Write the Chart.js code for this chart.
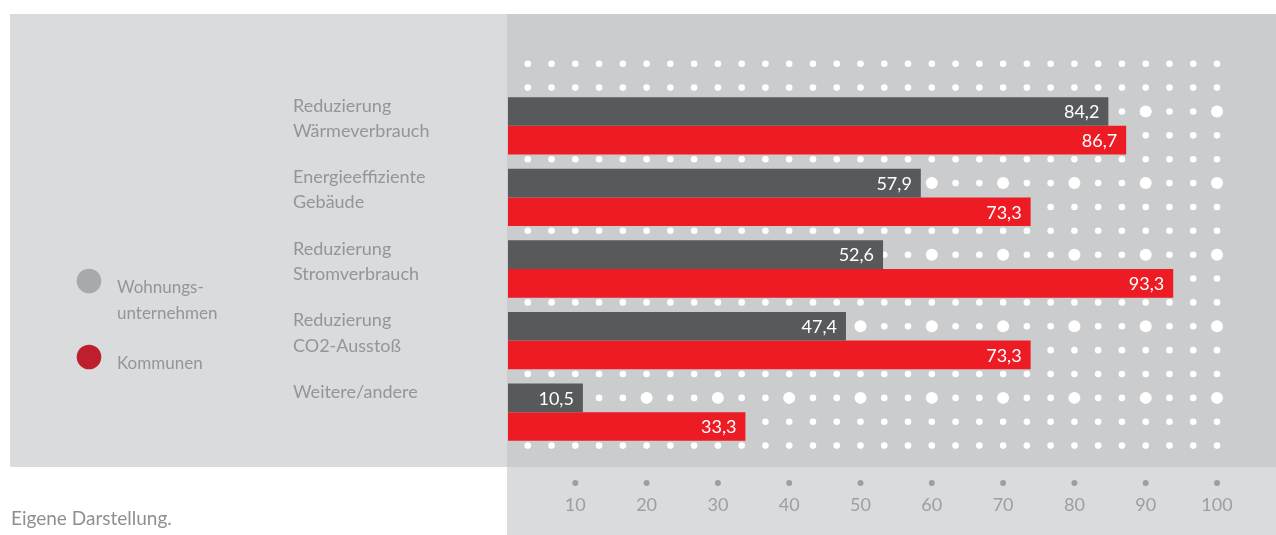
<!DOCTYPE html>
<html lang="de">
<head>
<meta charset="utf-8">
<script src="https://cdn.jsdelivr.net/npm/chart.js@4.4.1/dist/chart.umd.min.js"></script>
<style>
  html, body { margin: 0; padding: 0; background: #fff; }
  canvas { display: block; }
</style>
</head>
<body>
<canvas id="chart" width="1276" height="535"></canvas>
<script>
// --- Daten ---
const categories = [
  ['Reduzierung', 'Wärmeverbrauch'],
  ['Energieeffiziente', 'Gebäude'],
  ['Reduzierung', 'Stromverbrauch'],
  ['Reduzierung', 'CO2-Ausstoß'],
  ['Weitere/andere', '']
];
const wohnungsunternehmen = [84.2, 57.9, 52.6, 47.4, 10.5];
const kommunen = [86.7, 73.3, 93.3, 73.3, 33.3];
const seriesNames = ['Wohnungsunternehmen', 'Kommunen'];
const legendLines = [['Wohnungs-', 'unternehmen'], ['Kommunen']];
const tickValues = [10, 20, 30, 40, 50, 60, 70, 80, 90, 100];
const sourceNote = 'Eigene Darstellung.';

// --- Stil ---
const FONT = 'Lato, "Open Sans", sans-serif';
const GRAY_BAR = '#58595b';
const RED_BAR = '#ed1c24';
const LEGEND_COLORS = ['#a7a9ac', '#be1e2d'];
const TEXT_GRAY = '#939598';
const GRID_SHIFT = -4; // Punktraster sitzt etwas links der Balkenskala

const decor = {
  id: 'decor',
  beforeDraw(chart) {
    const { ctx, width, height } = chart;
    ctx.save();
    ctx.fillStyle = '#ffffff';
    ctx.fillRect(0, 0, width, height);
    ctx.fillStyle = '#dadbdd';
    ctx.fillRect(10, 14, 497, 453);
    ctx.fillStyle = '#cbcccd';
    ctx.fillRect(507, 14, width - 507, 453);
    ctx.fillStyle = '#dadbdd';
    ctx.fillRect(507, 467, width - 507, height - 467);

    // Legende
    ctx.font = '17px ' + FONT;
    ctx.textBaseline = 'middle';
    ctx.textAlign = 'left';
    const legendY = [281, 357];
    legendLines.forEach((lines, i) => {
      ctx.fillStyle = LEGEND_COLORS[i];
      ctx.beginPath();
      ctx.arc(89, legendY[i], 12.3, 0, Math.PI * 2);
      ctx.fill();
      ctx.fillStyle = TEXT_GRAY;
      lines.forEach((t, l) => ctx.fillText(t, 117, legendY[i] + 7 + l * 26));
    });

    // Quelle
    ctx.font = '19px ' + FONT;
    ctx.fillStyle = '#8e8f91';
    ctx.fillText(sourceNote, 11, 519);
    ctx.restore();
  },
  beforeDatasetsDraw(chart) {
    const { ctx, chartArea } = chart;
    const xs = chart.scales.x, ys = chart.scales.y;
    const catStep = ys.getPixelForValue(1) - ys.getPixelForValue(0);
    const row = catStep / 3;
    const firstDark = ys.getPixelForValue(0) - catStep * 0.8 / 4;
    ctx.save();
    ctx.fillStyle = '#ffffff';
    for (let j = -2; j <= 14; j++) {
      const y = firstDark + j * row;
      const darkRow = j >= 0 && j % 3 === 0;
      for (let k = 1; k <= 30; k++) {
        const x = xs.getPixelForValue(k * 10 / 3) + GRID_SHIFT;
        const big = darkRow && k % 3 === 0;
        ctx.beginPath();
        ctx.arc(x, y, big ? 6 : 3.3, 0, Math.PI * 2);
        ctx.fill();
      }
    }
    // Punkte über den Achsenbeschriftungen
    ctx.fillStyle = '#9d9ea0';
    tickValues.forEach(v => {
      ctx.beginPath();
      ctx.arc(xs.getPixelForValue(v) + GRID_SHIFT, chartArea.bottom + 35, 3, 0, Math.PI * 2);
      ctx.fill();
    });
    ctx.restore();
  },
  afterDatasetsDraw(chart) {
    const ctx = chart.ctx;
    ctx.save();
    ctx.font = '18px ' + FONT;
    ctx.fillStyle = '#ffffff';
    ctx.textAlign = 'right';
    ctx.textBaseline = 'middle';
    chart.data.datasets.forEach((ds, i) => {
      chart.getDatasetMeta(i).data.forEach((bar, j) => {
        ctx.fillText(ds.data[j].toFixed(1).replace('.', ','), bar.x - 9, bar.y + 1);
      });
    });
    ctx.restore();
  }
};

new Chart(document.getElementById('chart'), {
  type: 'bar',
  data: {
    labels: categories,
    datasets: [
      { label: seriesNames[0], data: wohnungsunternehmen, backgroundColor: GRAY_BAR },
      { label: seriesNames[1], data: kommunen, backgroundColor: RED_BAR }
    ]
  },
  options: {
    indexAxis: 'y',
    responsive: false,
    animation: false,
    barPercentage: 1,
    categoryPercentage: 0.8,
    layout: { padding: { top: 90, left: 293, right: 55, bottom: 0 } },
    plugins: { legend: { display: false }, tooltip: { enabled: false } },
    scales: {
      x: {
        min: 0,
        max: 100,
        grid: { display: false, drawTicks: false },
        border: { display: false },
        afterFit: s => { s.height = 87; s.paddingLeft = 0; s.paddingRight = 0; },
        ticks: {
          stepSize: 10,
          callback: v => (v === 0 ? '' : v),
          color: '#9d9ea0',
          font: { family: FONT, size: 18 },
          padding: 46,
          labelOffset: GRID_SHIFT,
          maxRotation: 0
        }
      },
      y: {
        grid: { display: false, drawTicks: false },
        border: { display: false },
        afterFit: s => { s.width = 215; },
        ticks: {
          crossAlign: 'far',
          color: TEXT_GRAY,
          font: { family: FONT, size: 18, lineHeight: 1.4 },
          labelOffset: -7.5,
          padding: 0
        }
      }
    }
  },
  plugins: [decor]
});
</script>
</body>
</html>
